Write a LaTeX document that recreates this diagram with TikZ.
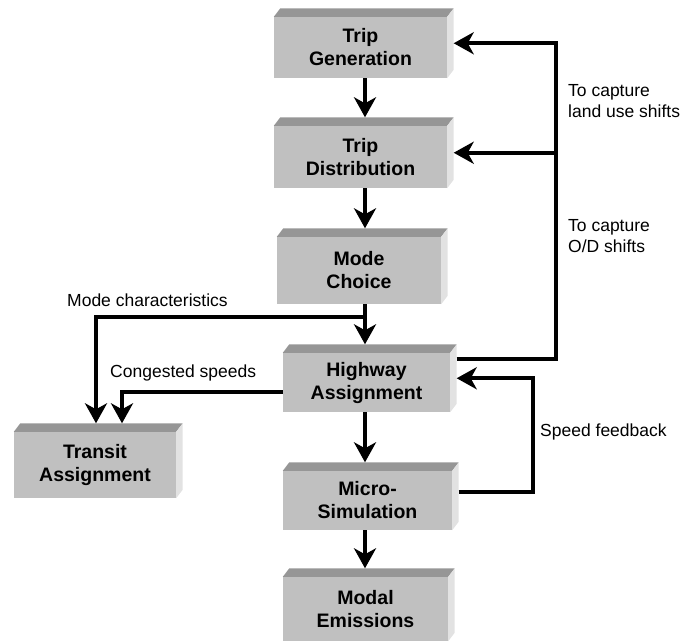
\documentclass[tikz,border=0pt]{standalone}
\usepackage{fontspec}
\setmainfont{Liberation Sans}
\usetikzlibrary{arrows.meta,calc}
\definecolor{facegray}{HTML}{C0C0C0}
\definecolor{topgray}{HTML}{969696}
\definecolor{sidegray}{HTML}{E2E2E2}
\tikzset{
  stage/.style={fill=facegray, inner sep=0pt, align=center,
    font=\fontsize{19.5}{23}\selectfont\bfseries},
  flow/.style={line width=4pt, -{Stealth[length=20pt,width=22pt,inset=6pt]}},
  note/.style={font=\fontsize{17.5}{21.5}\selectfont, align=left, anchor=west, inner sep=0pt},
  backoff/.style={shift={(6.5,-8.5)}},
  sidemid/.style={shift={(6.5,-4.25)}}
}
% top and right faces of a raised block
\newcommand{\stagefaces}[1]{%
  \fill[topgray] (#1.north west) -- ([backoff]#1.north west) -- ([backoff]#1.north east) -- (#1.north east) -- cycle;
  \fill[sidegray] (#1.north east) -- ([backoff]#1.north east) -- ([backoff]#1.south east) -- (#1.south east) -- cycle;
}
\begin{document}
\begin{tikzpicture}[x=1pt,y=-1pt]
\useasboundingbox (0,0) rectangle (696,641);

% blocks
\node[stage, minimum width=173, minimum height=61] (tg) at (360.5,47.5) {Trip\\Generation};
\node[stage, minimum width=173, minimum height=62] (td) at (360.5,157) {Trip\\Distribution};
\node[stage, minimum width=164, minimum height=67] (mc) at (359,270.5) {Mode\\Choice};
\node[stage, minimum width=167, minimum height=59] (ha) at (366.5,382.5) {Highway\\Assignment};
\node[stage, minimum width=162, minimum height=66] (ta) at (95,465) {Transit\\Assignment};
\node[stage, minimum width=169, minimum height=59] (ms) at (367.5,500.5) {Micro-\\Simulation};
\node[stage, minimum width=165, minimum height=64] (me) at (365.5,609) {Modal\\Emissions};
\stagefaces{tg}
\stagefaces{td}
\stagefaces{mc}
\stagefaces{ha}
\stagefaces{ta}
\stagefaces{ms}
\stagefaces{me}

% main chain
\coordinate (axis) at (365,0);
\draw[flow] (tg.south -| axis) -- ($(td.north -| axis)+(0,-8.5)$);
\draw[flow] (td.south -| axis) -- ($(mc.north -| axis)+(0,-8.5)$);
\draw[flow] (mc.south -| axis) -- ($(ha.north -| axis)+(0,-8.5)$);
\draw[flow] (ha.south -| axis) -- ($(ms.north -| axis)+(0,-8.5)$);
\draw[flow] (ms.south -| axis) -- ($(me.north -| axis)+(0,-8.5)$);

% inputs to transit assignment
\coordinate (modejoin) at (365,317);
\coordinate (modeleft) at (96,317);
\draw[flow] (modejoin) -- (modeleft) -- ($(ta.north -| modeleft)+(0,-8.5)$);
\coordinate (congleft) at (122,392);
\draw[flow] (ha.west |- congleft) -- (congleft) -- ($(ta.north -| congleft)+(0,-8.5)$);

% feedback loops
\coordinate (tgin) at ([sidemid]tg.east);
\coordinate (tdin) at ([sidemid]td.east);
\coordinate (hain) at ([sidemid]ha.east);
\coordinate (haout) at ([shift={(6.5,-23.5)}]ha.east);
\coordinate (msout) at ([backoff]ms.east);
\coordinate (landx) at (556,0);
\coordinate (speedx) at (533,0);
\draw[flow] (haout) -- (haout -| landx) -- (tgin -| landx) -- (tgin);
\draw[flow] (tdin -| landx) -- (tdin);
\draw[flow] (msout) -- (msout -| speedx) -- (hain -| speedx) -- (hain);

% labels
\node[note] (lblmode) at (67,300) {Mode characteristics};
\node[note] (lblcong) at (110,373) {Congested speeds};
\node[note] (lblland) at (568,101) {To capture\\land use shifts};
\node[note] (lblod) at (568,236) {To capture\\O/D shifts};
\node[note] (lblspeed) at (540,432) {Speed feedback};
\end{tikzpicture}
\end{document}
